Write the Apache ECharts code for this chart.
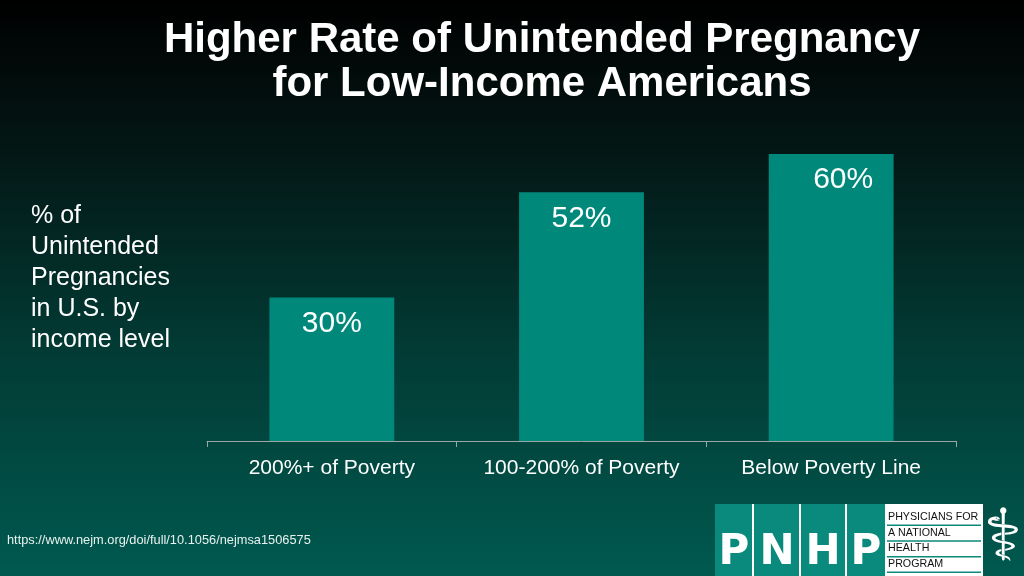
<!DOCTYPE html>
<html>
<head>
<meta charset="utf-8">
<script src="https://cdn.jsdelivr.net/npm/echarts@6/dist/echarts.min.js"></script>
<style>html,body{margin:0;padding:0;}#c{width:1024px;height:576px;}</style>
</head>
<body>
<div id="c"></div>
<script>
const categories = ['200%+ of Poverty', '100-200% of Poverty', 'Below Poverty Line'];
const values = [30, 52, 60];
const titleLines = ['Higher Rate of Unintended Pregnancy', 'for Low-Income Americans'];
const yLabelLines = ['% of', 'Unintended', 'Pregnancies', 'in U.S. by', 'income level'];
const sourceText = 'https://www.nejm.org/doi/full/10.1056/nejmsa1506575';
const logoLetters = ['P', 'N', 'H', 'P'];
const logoWords = ['PHYSICIANS FOR', 'A NATIONAL', 'HEALTH', 'PROGRAM'];

const chart = echarts.init(document.getElementById('c'));
const font = 'Liberation Sans, Arial, Helvetica, sans-serif';
const teal = '#00897b';

const graphics = [];
// title
graphics.push({type:'text', x:542, y:62, style:{text:titleLines.join('\n'), fill:'#ffffff', font:'bold 42px ' + font, textAlign:'center', textVerticalAlign:'middle', lineHeight:44}});
// y label
graphics.push({type:'text', left:31, top:201, style:{text:yLabelLines.join('\n'), fill:'#ffffff', font:'25px ' + font, lineHeight:31}});
// source
graphics.push({type:'text', x:7, y:540, style:{text:sourceText, fill:'#e8f2f0', font:'12.8px ' + font, textVerticalAlign:'middle'}});
// logo
graphics.push({type:'rect', shape:{x:715, y:504, width:170, height:72}, style:{fill:'#0a8a7c'}});
const letterX = [734, 777, 823, 866];
logoLetters.forEach((l, i) => {
  graphics.push({type:'text', x:letterX[i], y:553, style:{text:l, fill:'#ffffff', font:'900 42px DejaVu Sans, sans-serif', textAlign:'center', textVerticalAlign:'middle'}});
});
[753, 800, 846].forEach(x => {
  graphics.push({type:'rect', shape:{x:x-1, y:504, width:2, height:72}, style:{fill:'#ffffff'}});
});
graphics.push({type:'rect', shape:{x:885, y:504, width:98, height:72}, style:{fill:'#ffffff'}});
logoWords.forEach((w, i) => {
  graphics.push({type:'text', x:888, y:517 + i*15.7, style:{text:w, fill:'#111111', font:'10.7px ' + font, textVerticalAlign:'middle'}});
  graphics.push({type:'rect', shape:{x:887, y:524.5 + i*15.7, width:94, height:1.5}, style:{fill:'#0a8a7c'}});
});
graphics.push({type:'text', x:1003, y:541, style:{text:'\u2695', fill:'#ffffff', font:'72px DejaVu Sans, sans-serif', textAlign:'center', textVerticalAlign:'middle'}});

const barData = values.map((v, i) => i === 2 ? {value:v, label:{offset:[12, 0]}} : v);

chart.setOption({
  backgroundColor: {
    type:'linear', x:0, y:0, x2:0, y2:1,
    colorStops:[{offset:0, color:'#000000'}, {offset:0.25, color:'#031614'}, {offset:0.6, color:'#023a34'}, {offset:1, color:'#00594f'}]
  },
  animation:false,
  grid:{left:207, right:68, top:154, bottom:135},
  xAxis:{
    type:'category', data:categories,
    axisLine:{show:true, lineStyle:{color:'#9aa8a5', width:1}},
    axisTick:{show:true, interval:0, length:6, lineStyle:{color:'#9aa8a5'}},
    axisLabel:{color:'#ffffff', fontSize:21, fontFamily:font, margin:17, interval:0, hideOverlap:false}
  },
  yAxis:{type:'value', min:0, max:60, show:false, splitLine:{show:false}},
  series:[{
    type:'bar', data:barData, barWidth:'50%',
    itemStyle:{color:teal},
    label:{show:true, position:'insideTop', distance:11, formatter:'{c}%', color:'#ffffff', fontSize:30, fontFamily:font}
  }],
  graphic: graphics
});
</script>
</body>
</html>
